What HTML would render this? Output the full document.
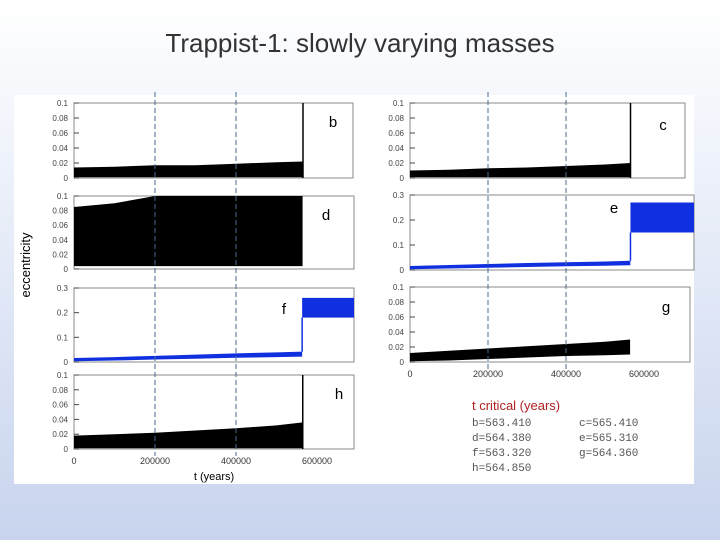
<!DOCTYPE html>
<html><head><meta charset="utf-8"><style>
body{margin:0;width:720px;height:540px;overflow:hidden;font-family:"Liberation Sans",sans-serif;background:linear-gradient(#ffffff 0%,#eef2fa 30%,#c8d4ee 100%);}
#title{position:absolute;left:0;width:720px;top:28px;text-align:center;font-size:26px;color:#333;}
svg{position:absolute;left:0;top:0}
</style></head><body>
<div id="title">Trappist-1: slowly varying masses</div>
<svg id="s" width="720" height="540"></svg>
<script>
// data (t in years, eccentricity)
const tPts=[0,100000,200000,300000,400000,500000,565000];
const bLo=[0.001,0.001,0.001,0.001,0.001,0.001,0.001];
const bHi=[0.014,0.015,0.017,0.017,0.019,0.021,0.022];
const dLo=[0.004,0.004,0.004,0.004,0.004,0.004,0.004];
const dHi=[0.085,0.09,0.1,0.1,0.1,0.1,0.1];
const fLo=[0.003,0.006,0.01,0.013,0.017,0.02,0.022];
const fHi=[0.016,0.02,0.025,0.03,0.035,0.039,0.042];
const hLo=[0.001,0.001,0.001,0.001,0.001,0.001,0.001];
const hHi=[0.018,0.02,0.022,0.025,0.028,0.032,0.036];
const cLo=[0.001,0.001,0.001,0.001,0.001,0.001,0.001];
const cHi=[0.01,0.011,0.013,0.014,0.016,0.018,0.02];
const eLo=[0.003,0.006,0.009,0.012,0.015,0.017,0.019];
const eHi=[0.016,0.02,0.024,0.028,0.031,0.034,0.037];
const gLo=[0.001,0.002,0.004,0.006,0.008,0.009,0.01];
const gHi=[0.012,0.015,0.018,0.021,0.024,0.027,0.03];
const tCrit={b:565410,c:565410,d:564380,e:565310,f:563320,g:564360,h:564850};
const jumpF=[0.18,0.26], jumpE=[0.15,0.27];
const xTicks=[0,200000,400000,600000];
const dashT=[200000,400000];
const S=document.getElementById('s'),NS='http://www.w3.org/2000/svg';
function mk(tag,at,txt){const e=document.createElementNS(NS,tag);for(const k in at)e.setAttribute(k,at[k]);if(txt!==undefined)e.textContent=txt;S.appendChild(e);return e;}
let r=mk('rect',{x:14,y:95,width:680,height:389,fill:'#fff'});


const L={x0:74,k:81/200000}, R={x0:410,k:78/200000};
const panels=[
 {n:'b',ax:L,x1:353,y0:103,y1:178,max:0.1,lo:bLo,hi:bHi,col:'#000',ticks:[0,0.02,0.04,0.06,0.08,0.1],spike:true,lx:333,ly:127},
 {n:'d',ax:L,x1:354,y0:196,y1:269,max:0.1,lo:dLo,hi:dHi,col:'#000',ticks:[0,0.02,0.04,0.06,0.08,0.1],lx:326,ly:220},
 {n:'f',ax:L,x1:354,y0:288,y1:362,max:0.3,lo:fLo,hi:fHi,col:'#1030e0',ticks:[0,0.1,0.2,0.3],jump:jumpF,lx:284,ly:314},
 {n:'h',ax:L,x1:354,y0:375,y1:449,max:0.1,lo:hLo,hi:hHi,col:'#000',ticks:[0,0.02,0.04,0.06,0.08,0.1],spike:true,xt:true,lx:339,ly:399},
 {n:'c',ax:R,x1:685,y0:103,y1:178,max:0.1,lo:cLo,hi:cHi,col:'#000',ticks:[0,0.02,0.04,0.06,0.08,0.1],spike:true,lx:663,ly:130},
 {n:'e',ax:R,x1:694,y0:195,y1:270,max:0.3,lo:eLo,hi:eHi,col:'#1030e0',ticks:[0,0.1,0.2,0.3],jump:jumpE,lx:614,ly:213},
 {n:'g',ax:R,x1:690,y0:287,y1:362,max:0.1,lo:gLo,hi:gHi,col:'#000',ticks:[0,0.02,0.04,0.06,0.08,0.1],xt:true,lx:666,ly:312}
];
panels.forEach(p=>{
 const xs=t=>p.ax.x0+t*p.ax.k, ys=v=>p.y1-v/p.max*(p.y1-p.y0);
 const tc=tCrit[p.n];
 let fr=mk('rect',{x:p.ax.x0,y:p.y0,width:p.x1-p.ax.x0,height:p.y1-p.y0,fill:'none',stroke:'#888','stroke-width':1});
 
 
 p.ticks.forEach(v=>{
  mk('line',{x1:p.ax.x0,x2:p.ax.x0+5,y1:ys(v),y2:ys(v),stroke:'#444'});
  let t=mk('text',{x:p.ax.x0-6,y:ys(v)+3,'font-size':8,'text-anchor':'end',fill:'#444'},String(v));
  
  
 });
 const ts=tPts.map(t=>Math.min(t,tc));
 let pts=ts.map((t,i)=>xs(t)+','+ys(p.hi[i])).concat(ts.slice().reverse().map((t,j)=>xs(t)+','+ys(p.lo[ts.length-1-j])));
 let band=mk('polygon',{points:pts.join(' '),fill:p.col});
 
 
 if(p.spike){let sp=mk('line',{x1:xs(tc),x2:xs(tc),y1:ys(0),y2:p.y0,stroke:'#000','stroke-width':1.5});
  
  }
 if(p.jump){let j=mk('rect',{x:xs(tc),y:ys(p.jump[1]),width:p.x1-xs(tc),height:ys(p.jump[0])-ys(p.jump[1]),fill:p.col});
  
  
  mk('line',{x1:xs(tc),x2:xs(tc),y1:ys(p.hi[6]),y2:ys(p.jump[0]),stroke:p.col,'stroke-width':1.5});}
 let lb=mk('text',{x:p.lx,y:p.ly,'font-size':15,fill:'#000','text-anchor':'middle'},p.n);
 
 
 if(p.xt){xTicks.forEach(t=>{let x=mk('text',{x:xs(t),y:p.y1+15,'font-size':9,'text-anchor':'middle',fill:'#333'},String(t));
  
  });}
});
[L,R].forEach(ax=>dashT.forEach(t=>{let d=mk('line',{x1:ax.x0+t*ax.k,x2:ax.x0+t*ax.k,y1:92,y2:ax===L?456:372,stroke:'#4a6a90','stroke-dasharray':'5,3','stroke-width':1});
 
 }));
let yl=mk('text',{x:0,y:0,'font-size':13,transform:'translate(30,265) rotate(-90)','text-anchor':'middle',fill:'#000'},'eccentricity');


let xl=mk('text',{x:214,y:480,'font-size':11,'text-anchor':'middle',fill:'#000'},'t  (years)');


let lt=mk('text',{x:472,y:410,'font-size':13,fill:'#b02020'},'t critical  (years)');


const legRows=[['b=563.410','c=565.410'],['d=564.380','e=565.310'],['f=563.320','g=564.360'],['h=564.850','']];
legRows.forEach((row,i)=>row.forEach((s,j)=>{if(!s)return;let t=mk('text',{x:472+j*107,y:426+i*15,'font-size':11,'font-family':'Liberation Mono,monospace',fill:'#555'},s);
 
 }));
</script>
</body></html>
